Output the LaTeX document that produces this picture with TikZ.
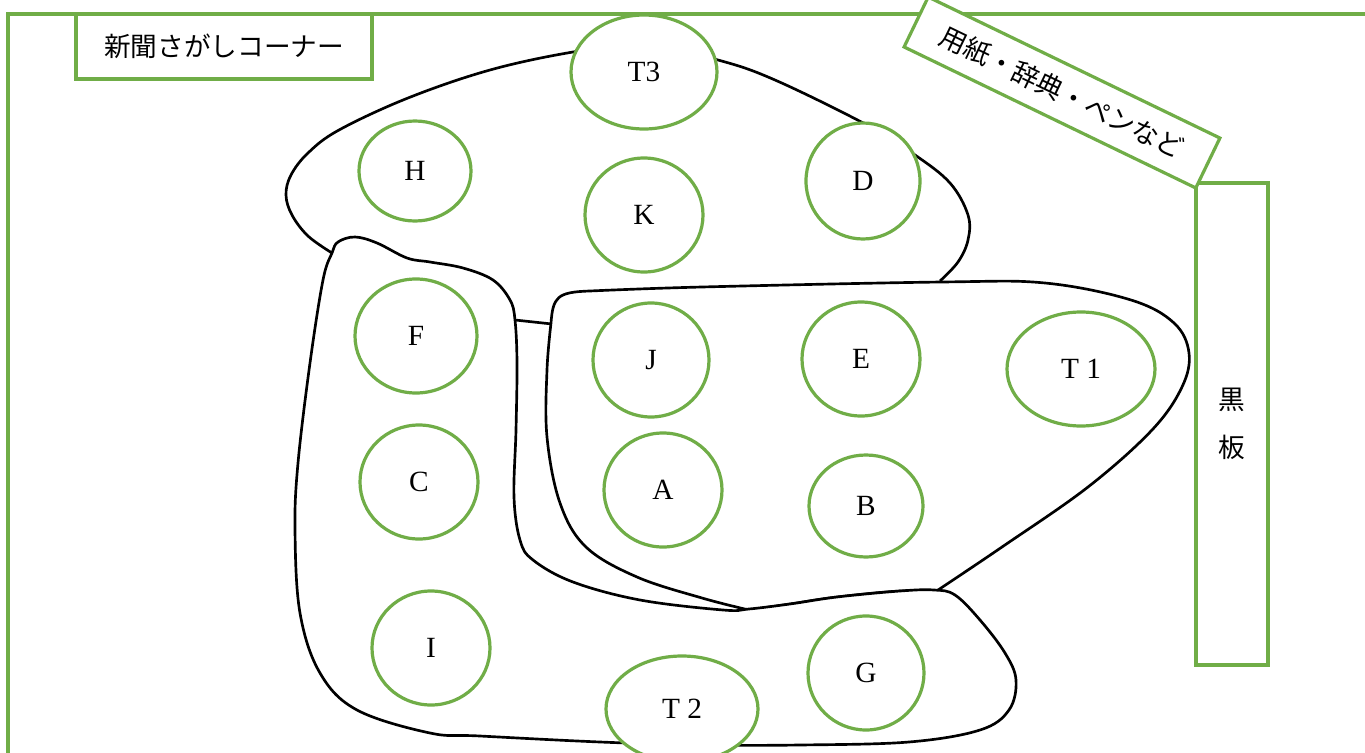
\documentclass[tikz,border=0pt]{standalone}
\usepackage{fontspec}
\setmainfont{Liberation Serif}
\newfontfamily\jp{Noto Sans CJK JP}
\usetikzlibrary{shapes.geometric}
\definecolor{grn}{HTML}{70AD47}
\begin{document}
\begin{tikzpicture}[x=0.75pt,y=-0.75pt,
  gline/.style={draw=grn,line width=2.4pt},
  bline/.style={draw=black,line width=2pt,line join=round},
  seat/.style={ellipse,gline,fill=white,inner sep=0pt,font=\fontsize{22}{22}\selectfont},
  tagbox/.style={rectangle,gline,fill=white,inner sep=0pt,font=\jp\fontsize{20}{24}\selectfont}]
\useasboundingbox (0,0) rectangle (1365,753);
\begin{scope}
\clip (0,0) rectangle (1365,753);
% outer frame
\draw[gline] (8,14) rectangle (1390,790);
% top group outline
\draw[bline] plot[smooth,tension=0.6] coordinates {(332,253) (308,236) (292,215) (286,195) (291,175) (308,153) (339,130) (408,98) (490,70) (573,52) (644,44) (718,60) (775,80) (867,125) (915,155) (950,183) (968,215) (968,240) (958,262) (940,281)};
\draw[bline] (515,320) -- (552,324);
% right group outline
\path[bline,fill=white] (551,323) .. controls (553,297) and (557,292) .. (590,291)
  -- plot[smooth,tension=0.6] coordinates {(590,291) (702,287) (942,282) (1045,283) (1131,300) (1174,323) (1189,353) (1182,387) (1152,430) (1088,487) (1002,547) (935,592)}
  -- plot[smooth,tension=0.6] coordinates {(935,592) (900,591) (837,597) (790,604) (749,610)}
  -- plot[smooth,tension=0.6] coordinates {(749,610) (702,598) (637,577) (586,547) (560,503) (547,437) (547,370) (551,323)} -- cycle;
% left / bottom group outline
\path[bline,fill=white] plot[smooth cycle,tension=0.6] coordinates {(332,253) (338,242) (355,237) (377,243) (407,258) (430,262) (463,268) (493,280) (510,300) (515,320) (517,363) (516,430) (514,497) (520,540) (533,560) (573,582) (640,600) (723,610) (749,609) (790,604) (837,597) (900,591) (934,590) (955,595) (980,620) (1005,653) (1016,680) (1009,710) (980,730) (909,742) (800,745) (700,745) (600,742) (480,736) (430,733) (357,710) (320,673) (300,613) (295,530) (298,463) (310,363) (323,280)};
% seats
\node[seat,minimum width=109.5pt,minimum height=85.5pt] (T3) at (644,72) {T3};
\node[seat,minimum width=84pt,minimum height=75pt] (H) at (415,171) {H};
\node[seat,minimum width=88.5pt,minimum height=85.5pt] (K) at (644,215) {K};
\node[seat,minimum width=85.5pt,minimum height=87pt] (D) at (863,181) {D};
\node[seat,minimum width=91.5pt,minimum height=85.5pt] (F) at (416,336) {F};
\node[seat,minimum width=87pt,minimum height=85.5pt] (J) at (651,360) {J};
\node[seat,minimum width=88.5pt,minimum height=85.5pt] (E) at (861,359) {E};
\node[seat,minimum width=111pt,minimum height=85.5pt] (T1) at (1081,369) {T 1};
\node[seat,minimum width=88.5pt,minimum height=85.5pt] (C) at (419,482) {C};
\node[seat,minimum width=88.5pt,minimum height=85.5pt] (A) at (663,490) {A};
\node[seat,minimum width=85.5pt,minimum height=76.5pt] (B) at (866,506) {B};
\node[seat,minimum width=88.5pt,minimum height=85.5pt] (I) at (431,648) {I};
\node[seat,minimum width=87pt,minimum height=85.5pt] (G) at (866,673) {G};
\node[seat,minimum width=114pt,minimum height=79.5pt] (T2) at (682,709) {T 2};
% boxes
\node[tagbox,minimum width=222pt,minimum height=48.75pt] (corner) at (224,46.5) {新聞さがしコーナー};
\node[tagbox,minimum width=54pt,minimum height=361.5pt,align=center,font=\jp\fontsize{20}{36}\selectfont] (board) at (1232,424) {黒\\板};
\node[tagbox,minimum width=243pt,minimum height=41.6pt,rotate=-25.8] (supplies) at (1062,92.5) {用紙・辞典・ペンなど};
\end{scope}
\end{tikzpicture}
\end{document}
